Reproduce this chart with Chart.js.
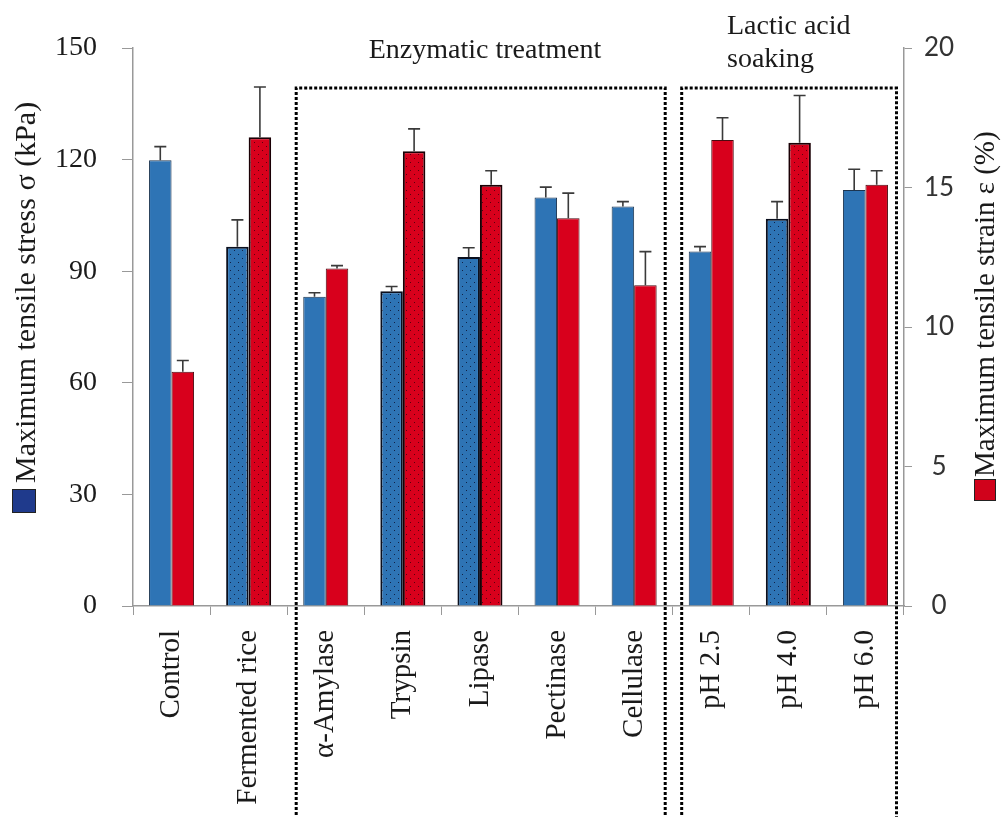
<!DOCTYPE html>
<html>
<head>
<meta charset="utf-8">
<script src="https://cdn.jsdelivr.net/npm/chart.js@4"></script>
<style>
  html, body { margin: 0; padding: 0; background: #fff; }
  #wrap { width: 1002px; height: 817px; }
</style>
</head>
<body>
<div id="wrap"><canvas id="chart" width="1002" height="817"></canvas></div>
<script>
const categories = ["Control", "Fermented rice", "α-Amylase", "Trypsin", "Lipase", "Pectinase", "Cellulase", "pH 2.5", "pH 4.0", "pH 6.0"];
const stress = [119.8, 96.6, 83.1, 84.6, 93.8, 109.8, 107.4, 95.3, 104.1, 111.8];
const stressErr = [3.7, 7.2, 1.1, 1.3, 2.5, 2.8, 1.3, 1.3, 4.6, 5.6];
const strain = [8.4, 16.8, 12.1, 16.3, 15.1, 13.9, 11.5, 16.7, 16.6, 15.1];
const strainErr = [0.4, 1.8, 0.1, 0.8, 0.5, 0.9, 1.2, 0.8, 1.7, 0.5];
const patterned = [false, true, false, true, true, false, false, false, true, false];
const stressTicks = [0, 30, 60, 90, 120, 150];
const strainTicks = [0, 5, 10, 15, 20];

const BLUE = "#2e74b5";
const RED = "#d8001c";
const SERIF = "'Liberation Serif', 'Times New Roman', serif";

function dotPattern(base, dot) {
  const c = document.createElement("canvas");
  c.width = 8;
  c.height = 8;
  const g = c.getContext("2d");
  g.fillStyle = base;
  g.fillRect(0, 0, 8, 8);
  g.fillStyle = dot;
  g.fillRect(2, 2, 1, 1);
  g.fillRect(6, 6, 1, 1);
  return g.createPattern(c, "repeat");
}

const ctx = document.getElementById("chart").getContext("2d");
const bluePat = dotPattern(BLUE, "rgba(10,20,50,0.85)");
const redPat = dotPattern(RED, "rgba(60,0,10,0.8)");

// error bars (upper whisker only)
const errorBars = {
  id: "errorBars",
  afterDatasetsDraw(chart) {
    const g = chart.ctx;
    chart.data.datasets.forEach((ds, i) => {
      const meta = chart.getDatasetMeta(i);
      const scale = chart.scales[ds.yAxisID];
      meta.data.forEach((bar, j) => {
        const top = scale.getPixelForValue(ds.data[j] + ds.errors[j]);
        g.save();
        g.strokeStyle = "#3a3a3a";
        g.lineWidth = 1.6;
        g.beginPath();
        g.moveTo(bar.x, bar.y);
        g.lineTo(bar.x, top);
        g.moveTo(bar.x - 6, top);
        g.lineTo(bar.x + 6, top);
        g.stroke();
        g.restore();
      });
    });
  },
};

// group boxes, group titles, axis titles with colour keys
const decorations = {
  id: "decorations",
  afterDraw(chart) {
    const g = chart.ctx;
    const x = chart.scales.x;
    const half = (x.getPixelForValue(1) - x.getPixelForValue(0)) / 2;
    const edge = (i) => x.getPixelForValue(i) - half;
    const boxTop = 88;

    g.save();
    g.strokeStyle = "#000";
    g.lineWidth = 3;
    g.setLineDash([3, 2]);
    [[edge(2) + 9, edge(7) - 7.5], [edge(7) + 9, edge(10) - 7.5]].forEach(([l, r]) => {
      g.beginPath();
      g.moveTo(l, 830);
      g.lineTo(l, boxTop);
      g.lineTo(r, boxTop);
      g.lineTo(r, 830);
      g.stroke();
    });
    g.restore();

    g.save();
    g.fillStyle = "#1a1a1a";
    g.font = "28px " + SERIF;
    g.textBaseline = "alphabetic";
    g.textAlign = "center";
    g.fillText("Enzymatic treatment", (edge(2) + edge(7)) / 2 + 5, 58);
    g.textAlign = "left";
    g.fillText("Lactic acid", 727, 34);
    g.fillText("soaking", 727, 67);

    g.font = "30px " + SERIF;
    g.save();
    g.translate(35, 483);
    g.rotate(-Math.PI / 2);
    g.fillText("Maximum tensile stress σ (kPa)", 0, 0);
    g.restore();
    g.font = "29px " + SERIF;
    g.save();
    g.translate(994, 477);
    g.rotate(-Math.PI / 2);
    g.fillText("Maximum tensile strain ε (%)", 0, 0);
    g.restore();

    g.lineWidth = 1;
    g.strokeStyle = "#222";
    g.fillStyle = "#1f3a8c";
    g.fillRect(12, 489, 24, 24);
    g.strokeRect(12.5, 489.5, 23, 23);
    g.fillStyle = "#d0021b";
    g.fillRect(974, 479, 22, 22);
    g.strokeRect(974.5, 479.5, 21, 21);
    g.restore();
  },
};

new Chart(ctx, {
  type: "bar",
  data: {
    labels: categories,
    datasets: [
      {
        label: "Maximum tensile stress σ (kPa)",
        data: stress,
        errors: stressErr,
        yAxisID: "y",
        backgroundColor: patterned.map((p) => (p ? bluePat : BLUE)),
        borderColor: patterned.map((p) => (p ? "#0a0f1e" : "#1d3550")),
        borderWidth: patterned.map((p) => (p ? 2 : 1)),
      },
      {
        label: "Maximum tensile strain ε (%)",
        data: strain,
        errors: strainErr,
        yAxisID: "y2",
        backgroundColor: patterned.map((p) => (p ? redPat : RED)),
        borderColor: patterned.map((p) => (p ? "#1a0005" : "#4a0a10")),
        borderWidth: patterned.map((p) => (p ? 2 : 1)),
      },
    ],
  },
  options: {
    responsive: false,
    animation: false,
    devicePixelRatio: 1,
    layout: { padding: { top: 48, left: 0, right: 0, bottom: 0 } },
    categoryPercentage: 0.584,
    barPercentage: 1.0,
    plugins: { legend: { display: false }, tooltip: { enabled: false } },
    scales: {
      x: {
        afterFit: (s) => { s.height = 211; },
        grid: { offset: true, drawOnChartArea: false, tickLength: 9, color: "#999" },
        border: { color: "#999", width: 1.5 },
        ticks: {
          minRotation: 90,
          maxRotation: 90,
          padding: 15,
          color: "#1a1a1a",
          font: { family: SERIF, size: 29 },
        },
      },
      y: {
        position: "left",
        min: 0,
        max: 150,
        afterFit: (s) => { s.width = 133; },
        afterBuildTicks: (s) => { s.ticks = stressTicks.map((v) => ({ value: v })); },
        grid: { drawOnChartArea: false, tickLength: 11, color: "#999" },
        border: { color: "#999", width: 1.5 },
        ticks: { padding: 25, color: "#1a1a1a", font: { family: SERIF, size: 28 } },
      },
      y2: {
        position: "right",
        min: 0,
        max: 20,
        afterFit: (s) => { s.width = 98; },
        afterBuildTicks: (s) => { s.ticks = strainTicks.map((v) => ({ value: v })); },
        grid: { drawOnChartArea: false, tickLength: 8, color: "#999" },
        border: { color: "#999", width: 1.5 },
        ticks: {
          padding: 12,
          crossAlign: "center",
          color: "#333",
          font: { family: "Lato, 'Open Sans', sans-serif", size: 26 },
        },
      },
    },
  },
  plugins: [errorBars, decorations],
});
</script>
</body>
</html>
